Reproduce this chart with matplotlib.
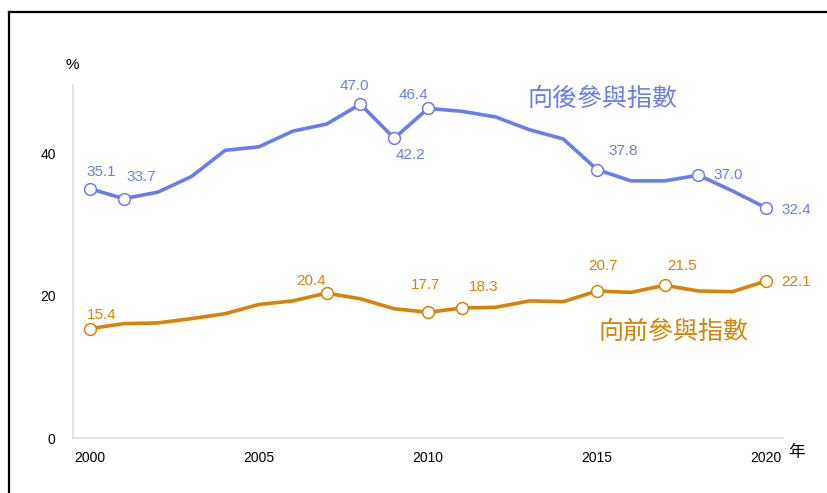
import matplotlib
matplotlib.use('Agg')
import matplotlib.pyplot as plt
from matplotlib.lines import Line2D

plt.rcParams['font.family'] = ['Liberation Sans', 'Noto Sans CJK TC', 'DejaVu Sans']

years = list(range(2000, 2021))
backward = [35.1, 33.7, 34.6, 36.8, 40.5, 41.0, 43.2, 44.2, 47.0, 42.2, 46.4,
            46.0, 45.2, 43.4, 42.1, 37.8, 36.2, 36.2, 37.0, 34.8, 32.4]
forward = [15.4, 16.1, 16.2, 16.8, 17.5, 18.8, 19.3, 20.4, 19.6, 18.2, 17.7,
           18.3, 18.4, 19.3, 19.2, 20.7, 20.5, 21.5, 20.7, 20.6, 22.1]
backward_marked = [2000, 2001, 2008, 2009, 2010, 2015, 2018, 2020]
forward_marked = [2000, 2007, 2010, 2011, 2015, 2017, 2020]
backward_name = '向後參與指數'
forward_name = '向前參與指數'

blue = '#6A7DF0'
orange = '#D98206'

# label offsets in pixels (dx, dy)
b_off = {2000: (11, 17), 2001: (17, 22), 2008: (-6, 18), 2009: (16, -17),
         2010: (-15, 13), 2015: (26, 19), 2018: (30, 0), 2020: (30, -2)}
f_off = {2000: (12, 14), 2007: (-16, 12), 2010: (-2, 27), 2011: (22, 21),
         2015: (6, 25), 2017: (17, 19), 2020: (30, -1)}

fig = plt.figure(figsize=(8.28, 4.93), dpi=100)
ax = fig.add_axes([73/828, 55/493, 710/828, 353/493])

for vals, marked, col, offs in [(backward, backward_marked, blue, b_off),
                                (forward, forward_marked, orange, f_off)]:
    ax.plot(years, vals, color=col, lw=2.6, solid_joinstyle='round', zorder=3)
    mv = [vals[years.index(y)] for y in marked]
    ax.plot(marked, mv, 'o', ms=8.5, mfc='white', mec=col, mew=1.1, zorder=4)
    for y, v in zip(marked, mv):
        dx, dy = offs[y]
        ax.annotate(f'{v:.1f}', (y, v), xytext=(dx, dy), textcoords='offset pixels',
                    ha='center', va='center', color=col, fontsize=11)

ax.text(2015.15, 47.7, backward_name, color=blue, fontsize=18, ha='center', va='center',
        family=['Noto Sans CJK TC'])
ax.text(2017.25, 14.9, forward_name, color=orange, fontsize=18, ha='center', va='center',
        family=['Noto Sans CJK TC'])

ax.set_xlim(1999.5, 2020.5)
ax.set_ylim(0, 49.7)
ax.set_xticks([2000, 2005, 2010, 2015, 2020])
ax.set_yticks([0, 20, 40])
ax.tick_params(length=0, labelsize=10, pad=9)
ax.tick_params(axis='y', pad=12.5)
for s in ['top', 'right']:
    ax.spines[s].set_visible(False)
for s in ['left', 'bottom']:
    ax.spines[s].set_color('#DDDDDD')
    ax.spines[s].set_linewidth(1.2)

fig.text(72/828, 1 - 65/493, '%', fontsize=11, ha='center', va='center')
fig.text(797/828, 1 - 453/493, '年', fontsize=12, ha='center', va='center',
         family=['Noto Sans CJK TC'])

# frame lines at top and left
fig.add_artist(Line2D([9/828, 1], [1 - 12/493] * 2, color='black', lw=1.6))
fig.add_artist(Line2D([9/828] * 2, [0, 1 - 12/493], color='black', lw=1.6))

fig.savefig('out.png', dpi=100)
